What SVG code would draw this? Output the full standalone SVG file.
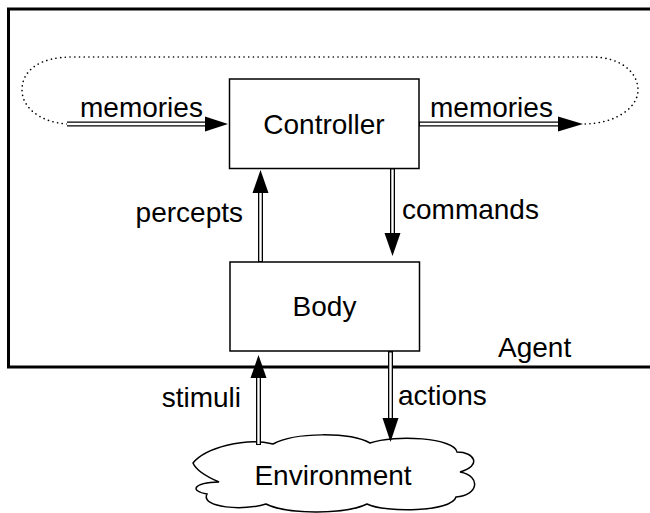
<svg xmlns="http://www.w3.org/2000/svg" width="650" height="513" viewBox="0 0 650 513">
<style>
text{font-family:"Liberation Sans",Arial,sans-serif;font-size:28px;fill:#000}
.box{fill:#fff;stroke:#000;stroke-width:1.5}
.dbl-o{fill:none;stroke:#000;stroke-width:5}
.dbl-i{fill:none;stroke:#fff;stroke-width:2.4}
.head{fill:#000}
</style>
<rect width="650" height="513" fill="#fff"/>
<g id="agent">
<rect x="8.5" y="9" width="700" height="358" fill="none" stroke="#000" stroke-width="3"/>
<text x="498" y="357">Agent</text>
</g>
<g id="loop">
<path d="M67,124 C38,122 22,106 22,90 C22,70 40,57 72,57 L592,57 C620,57 638,72 638,90 C638,108 615,124 583,124" fill="none" stroke="#000" stroke-width="1.6" stroke-dasharray="0.1 4.6" stroke-linecap="round"/>
</g>
<g id="controller">
<rect class="box" x="229.5" y="79" width="189.5" height="89.5"/>
<text x="324" y="134" text-anchor="middle">Controller</text>
</g>
<g id="body">
<rect class="box" x="230" y="262" width="189.5" height="89"/>
<text x="324.5" y="316" text-anchor="middle">Body</text>
</g>
<g id="environment">
<path d="M193,463 C205,448 245,437 273,444 C295,432 350,432 370,443 C395,434 455,438 457,452 C475,452 482,466 460,472 C482,476 478,496 456,497 C452,512 385,513 367,504 C345,515 285,514 266,504 C245,511 200,508 207,494 C190,491 192,483 219,482 C205,476 196,470 193,463 Z" fill="#fff" stroke="#000" stroke-width="1.5"/>
<text x="333" y="485" text-anchor="middle">Environment</text>
</g>
<g id="connectors">
<g id="mem-in">
<path class="dbl-o" d="M67,124 H206"/><path class="dbl-i" d="M67,124 H207"/>
<polygon class="head" points="205,116.5 228,124 205,131.5"/>
<text x="80" y="117">memories</text>
</g>
<g id="mem-out">
<path class="dbl-o" d="M419,124 H559"/><path class="dbl-i" d="M420,124 H560"/>
<polygon class="head" points="558,116.5 583,124 558,131.5"/>
<text x="430" y="117">memories</text>
</g>
<g id="percepts">
<path class="dbl-o" d="M260.5,262 V192"/><path class="dbl-i" d="M260.5,261 V191"/>
<polygon class="head" points="252.5,193 260.5,170 268.5,193"/>
<text x="243" y="222" text-anchor="end">percepts</text>
</g>
<g id="commands">
<path class="dbl-o" d="M392.5,168 V234"/><path class="dbl-i" d="M392.5,169.5 V235"/>
<polygon class="head" points="384.5,233 392.5,256 400.5,233"/>
<text x="402" y="219">commands</text>
</g>
<g id="stimuli">
<path class="dbl-o" d="M258.5,445 V377"/><path class="dbl-i" d="M258.5,444 V376"/>
<polygon class="head" points="250.5,378 258.5,355 266.5,378"/>
<text x="241" y="407" text-anchor="end">stimuli</text>
</g>
<g id="actions">
<path class="dbl-o" d="M390.5,351 V419"/><path class="dbl-i" d="M390.5,352.5 V420"/>
<polygon class="head" points="382.5,418 390.5,442 398.5,418"/>
<text x="398" y="405">actions</text>
</g>
</g>
</svg>
